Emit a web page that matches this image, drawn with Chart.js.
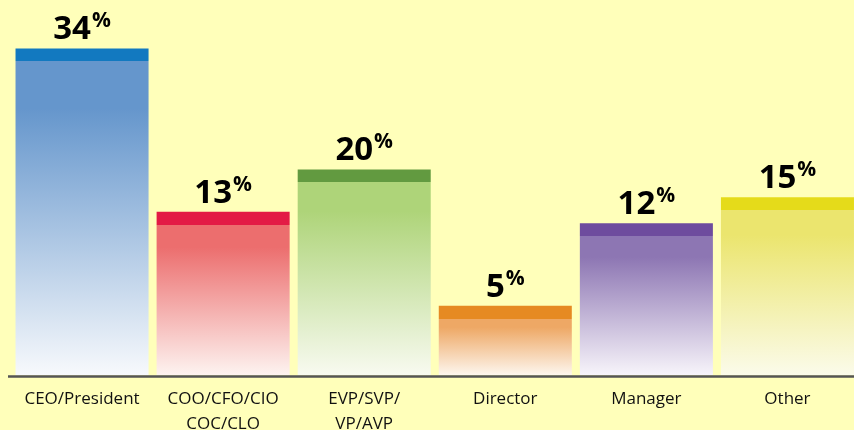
<!DOCTYPE html>
<html>
<head>
<meta charset="utf-8">
<script src="https://cdn.jsdelivr.net/npm/chart.js"></script>
<style>
  html, body { margin: 0; background: #FFFFBA; overflow: hidden; }
  #wrap { width: 854px; height: 430px; overflow: hidden; }
</style>
</head>
<body>
<div id="wrap"><canvas id="chart" width="858" height="430"></canvas></div>
<script>
const categories = [['CEO/President'], ['COO/CFO/CIO', 'COC/CLO'], ['EVP/SVP/', 'VP/AVP'], ['Director'], ['Manager'], ['Other']];
// percentages printed above the bars
const shareLabels = [34, 13, 20, 5, 12, 15];
// bar heights as drawn in the picture (the artwork is not to scale)
const barHeights = [34, 17, 21.4, 7.2, 15.8, 18.5];

const capColors = ['#1279C0', '#E31B45', '#629A40', '#E68A22', '#6E4C9E', '#E5DB1A'];
const topColors = ['#6596CC', '#EC6E6E', '#AED479', '#EEA865', '#8D76B3', '#EBE56E'];
const bottomColors = ['#F7F9FC', '#FDF3F0', '#F8FAF0', '#FDF6EE', '#F7F4FA', '#FBFBEA'];
const capPx = 13;

function barFill(ctx) {
  const chart = ctx.chart;
  const ys = chart.scales.y;
  const i = ctx.dataIndex;
  if (!ys || ctx.type !== 'data') return capColors[i];
  const top = ys.getPixelForValue(barHeights[i]);
  const base = ys.getPixelForValue(0);
  if (!isFinite(top) || !isFinite(base) || base - top <= 0) return topColors[i];
  const g = chart.ctx.createLinearGradient(0, top, 0, base);
  const f = Math.min(capPx / (base - top), 1);
  g.addColorStop(0, capColors[i]);
  g.addColorStop(f, capColors[i]);
  g.addColorStop(f, topColors[i]);
  g.addColorStop(f + (1 - f) * 0.15, topColors[i]);
  g.addColorStop(1, bottomColors[i]);
  return g;
}

const valueLabels = {
  id: 'valueLabels',
  afterDatasetsDraw(chart) {
    const c = chart.ctx;
    const meta = chart.getDatasetMeta(0);
    c.save();
    c.fillStyle = '#000';
    c.textBaseline = 'alphabetic';
    c.textAlign = 'left';
    meta.data.forEach((bar, i) => {
      const num = String(shareLabels[i]);
      c.font = 'bold 33px "Open Sans"';
      const w1 = c.measureText(num).width;
      c.font = 'bold 21px "Open Sans"';
      const w2 = c.measureText('%').width;
      const x = bar.x - (w1 + w2 + 1) / 2;
      const y = bar.y - 9;
      c.font = 'bold 33px "Open Sans"';
      c.fillText(num, x, y);
      c.font = 'bold 21px "Open Sans"';
      c.fillText('%', x + w1 + 1, y - 12);
    });
    c.restore();
  }
};

const baseLine = {
  id: 'baseLine',
  afterDatasetsDraw(chart) {
    const c = chart.ctx;
    const y = chart.scales.y.getPixelForValue(0) + 1.5;
    c.save();
    c.strokeStyle = '#555555';
    c.lineWidth = 2.5;
    c.beginPath();
    c.moveTo(8, y);
    c.lineTo(chart.width, y);
    c.stroke();
    c.restore();
  }
};

new Chart(document.getElementById('chart'), {
  type: 'bar',
  data: {
    labels: categories,
    datasets: [{
      data: barHeights,
      backgroundColor: barFill,
      borderWidth: 0,
      barPercentage: 0.943,
      categoryPercentage: 1
    }]
  },
  options: {
    responsive: false,
    animation: false,
    layout: { padding: { left: 11.5, top: 10, right: 0, bottom: 0 } },
    plugins: { legend: { display: false }, tooltip: { enabled: false } },
    scales: {
      x: {
        grid: { display: false, drawTicks: false },
        border: { display: false },
        afterFit(s) { s.height = 55; },
        ticks: {
          padding: 11,
          color: '#111111',
          maxRotation: 0,
          autoSkip: false,
          font: { family: '"Open Sans"', size: 17, lineHeight: 1.5 }
        }
      },
      y: { display: false, min: 0, max: 38 }
    }
  },
  plugins: [valueLabels, baseLine]
});
</script>
</body>
</html>
